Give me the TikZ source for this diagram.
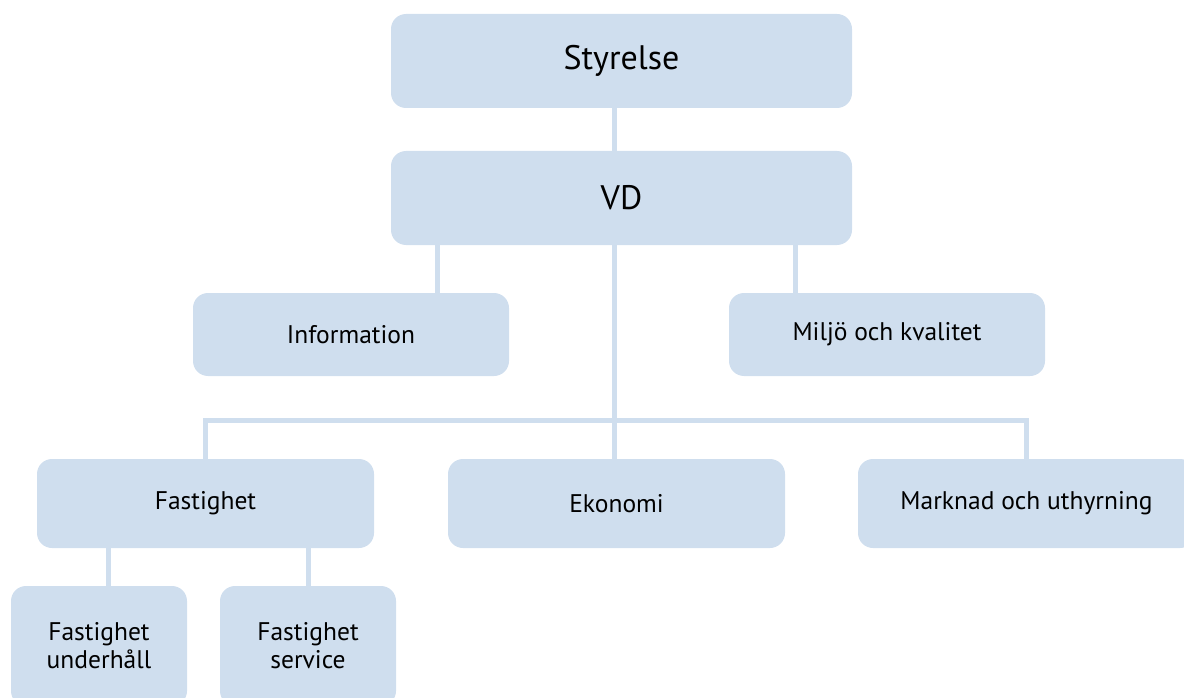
\documentclass[tikz,border=0pt]{standalone}
\usepackage{fontspec}
\setmainfont{PT Sans}
\definecolor{boxblue}{HTML}{CFDEEE}
\begin{document}
\begin{tikzpicture}[x=1pt,y=-1pt,
  box/.style={fill=boxblue, rounded corners=15pt, inner sep=0pt, align=center, text=black},
  big/.style={box, minimum width=461pt, minimum height=94pt, font=\fontsize{34}{40}\selectfont},
  mid/.style={box, minimum width=316pt, minimum height=83pt, font=\fontsize{25.5}{30}\selectfont},
  wide/.style={box, minimum width=337pt, minimum height=89pt, font=\fontsize{25.5}{30}\selectfont},
  small/.style={box, minimum width=176pt, minimum height=120pt, font=\fontsize{25.5}{28}\selectfont},
  link/.style={draw=boxblue, line width=5pt}]
\useasboundingbox (0,0) rectangle (1184,698);
\clip (0,0) rectangle (1184,698);
% nodes
\node[big] (sty) at (621.5,61) {Styrelse};
\node[big] (vd) at (621.5,198) {VD};
\node[mid] (info) at (351,334.5) {Information};
\node[mid] (milj) at (887,334.5) {Miljö och kvalitet};
\node[wide] (fast) at (205.5,503.5) {Fastighet};
\node[wide] (eko) at (616.5,503.5) {Ekonomi};
\node[wide] (mark) at (1026.5,503.5) {Marknad och uthyrning};
\node[small] (fu) at (99,646) {Fastighet\\underhåll};
\node[small] (fs) at (308,646) {Fastighet\\service};
% connectors
\draw[link] (614,0 |- sty.south) -- (614,0 |- vd.north);
\draw[link] (437,0 |- vd.south) -- (437,0 |- info.north);
\draw[link] (795,0 |- vd.south) -- (795,0 |- milj.north);
\draw[link] (614,0 |- vd.south) -- (614,0 |- eko.north);
\draw[link] (fast.north) -- (fast.north |- 0,420) -| (mark.north);
\draw[link] (108,0 |- fast.south) -- (108,0 |- fu.north);
\draw[link] (fs.north |- fast.south) -- (fs.north);
\end{tikzpicture}
\end{document}
